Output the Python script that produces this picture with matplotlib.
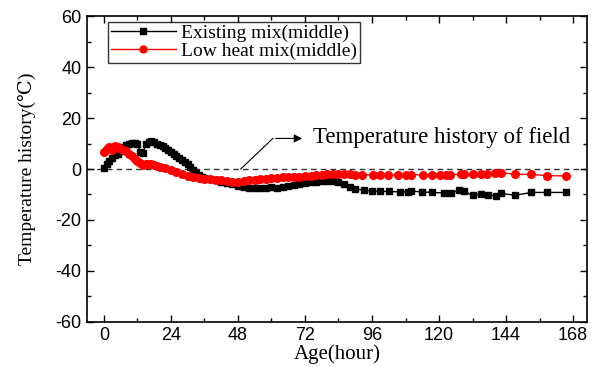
import matplotlib
matplotlib.use("Agg")
import matplotlib.pyplot as plt
from matplotlib.ticker import MultipleLocator

plt.rcParams['axes.unicode_minus'] = False

# Data (hours, degC)
existing_hours = [0, 1, 2, 3, 4, 5, 6, 7, 8, 9, 10, 11, 12, 13, 14, 15, 16, 17, 18, 19,
                  20, 21, 22, 23, 24, 25, 26, 27, 28, 29, 30, 31, 32, 33, 34, 35, 36, 38,
                  40, 42, 44, 46, 48, 50, 52, 54, 56, 58, 60, 62, 64, 66, 68, 70, 72, 74,
                  76, 78, 80, 82, 84, 86, 88, 90, 93, 96, 99, 102, 106, 109, 110, 114,
                  117.5, 121.7, 124.3, 127.1, 128.9, 132, 135, 137.7, 140.5, 142.2, 147.2,
                  153.1, 158.5, 165.6]
existing_temp = [0.5, 2, 3, 4.5, 5.5, 6, 7, 8.5, 9.5, 10, 10.3, 10.3, 10, 6.8, 6.2, 9.8,
                 10.5, 10.8, 10.5, 10, 9.5, 9, 8.3, 7.5, 6.8, 6, 5.2, 4.4, 3.6, 2.7, 1.8,
                 0.8, -0.3, -1.5, -2.5, -3, -3.5, -4, -4.5, -5, -5.5, -6, -6.5, -7, -7.3,
                 -7.5, -7.5, -7.3, -7.2, -7.3, -7.2, -6.8, -6.3, -5.8, -5.4, -5.2, -5,
                 -4.9, -4.8, -4.8, -5.2, -6, -7, -7.8, -8.3, -8.6, -8.8, -8.8, -9, -9,
                 -8.7, -9, -9.2, -9.4, -9.6, -8.2, -8.8, -10.3, -9.8, -10.3, -10.5, -9.6,
                 -10.3, -9.2, -9.2, -9.2]

lowheat_hours = [0, 1, 2, 3, 4, 5, 6, 7, 8, 9, 10, 11, 12, 13, 14, 15, 16, 17, 18, 19,
                 20, 22, 24, 26, 28, 30, 32, 34, 36, 38, 40, 42, 44, 46, 48, 50, 52, 54,
                 56, 58, 60, 62, 64, 66, 68, 70, 72, 74, 76, 78, 80, 82, 84, 86, 88, 90,
                 92.6, 96.2, 98.8, 101.9, 105.4, 108.1, 109.9, 114.2, 117.5, 120.5,
                 122.5, 124.1, 127.7, 129, 132, 135, 137.1, 140.1, 142.2, 147.2, 152.9,
                 158.8, 165.6]
lowheat_temp = [6.7, 7.8, 8.5, 7.5, 9, 8.7, 8, 7.5, 7, 6, 5, 4, 3, 2.2, 1.6, 1.8, 2.1,
                2, 1.7, 1.3, 0.9, 0.3, -0.4, -1.2, -2, -2.8, -3.2, -3.6, -3.9, -4.1,
                -4.3, -4.5, -4.8, -5, -5, -4.8, -4.5, -4.2, -4, -3.8, -3.6, -3.4, -3.3,
                -3.2, -3.1, -3, -2.9, -2.7, -2.5, -2.3, -2.1, -2, -2, -2, -2.1, -2.2,
                -2.3, -2.3, -2.3, -2.4, -2.3, -2.3, -2.2, -2.3, -2.3, -2.3, -2.3, -2.3,
                -2, -2, -2, -2.1, -2.1, -1.4, -1.4, -2.1, -2.1, -2.6, -2.75]

x_ticks = [0, 24, 48, 72, 96, 120, 144, 168]
y_ticks = [-60, -40, -20, 0, 20, 40, 60]

serif = ['Liberation Serif', 'DejaVu Serif']
sans = ['Liberation Sans', 'DejaVu Sans']

fig = plt.figure(figsize=(6.09, 3.67), dpi=100)
ax = fig.add_axes([0.143, 0.123, 0.821, 0.833])

ax.axhline(0, color='#333333', linestyle=(0, (4, 3)), linewidth=1.0, zorder=1)
ax.plot(existing_hours, existing_temp, color='black', marker='s', markersize=5,
        linewidth=1.0, label='Existing mix(middle)', zorder=2)
ax.plot(lowheat_hours, lowheat_temp, color='red', marker='o', markersize=5.5,
        linewidth=1.0, label='Low heat mix(middle)', zorder=3)

ax.set_xlim(-6, 173)
ax.set_ylim(-60, 60)
ax.set_xticks(x_ticks)
ax.set_yticks(y_ticks)
ax.xaxis.set_minor_locator(MultipleLocator(12))
ax.yaxis.set_minor_locator(MultipleLocator(10))
ax.tick_params(which='both', direction='in', top=True, right=True, width=1)
ax.tick_params(which='major', length=5, labelsize=13, pad=4)
ax.tick_params(which='minor', length=3)
for lab in ax.get_xticklabels() + ax.get_yticklabels():
    lab.set_family(sans)
for sp in ax.spines.values():
    sp.set_linewidth(1.2)

ax.set_xlabel('Age(hour)', family=serif, fontsize=15, labelpad=0)
ax.set_ylabel('Temperature history(℃)', family=serif, fontsize=14, labelpad=14)

ax.annotate('', xy=(72, 12), xytext=(60.5, 12),
            arrowprops=dict(arrowstyle='-|>', color='black', lw=0.8, mutation_scale=12))
ax.plot([49, 60.5], [0, 12], color='black', lw=0.8)
ax.text(75, 12.5, 'Temperature history of field', family=serif, fontsize=16.5,
        va='center', ha='left')

leg = ax.legend(loc='upper left', bbox_to_anchor=(0.035, 0.995), prop={'family': serif, 'size': 14},
                frameon=True, fancybox=False, edgecolor='black', handlelength=3.3,
                borderpad=0.15, labelspacing=0.0, handletextpad=0.3, borderaxespad=0.2)
leg.get_frame().set_linewidth(1.0)
for h in leg.legend_handles:
    h.set_markersize(5)

fig.savefig('out.png', dpi=100)
